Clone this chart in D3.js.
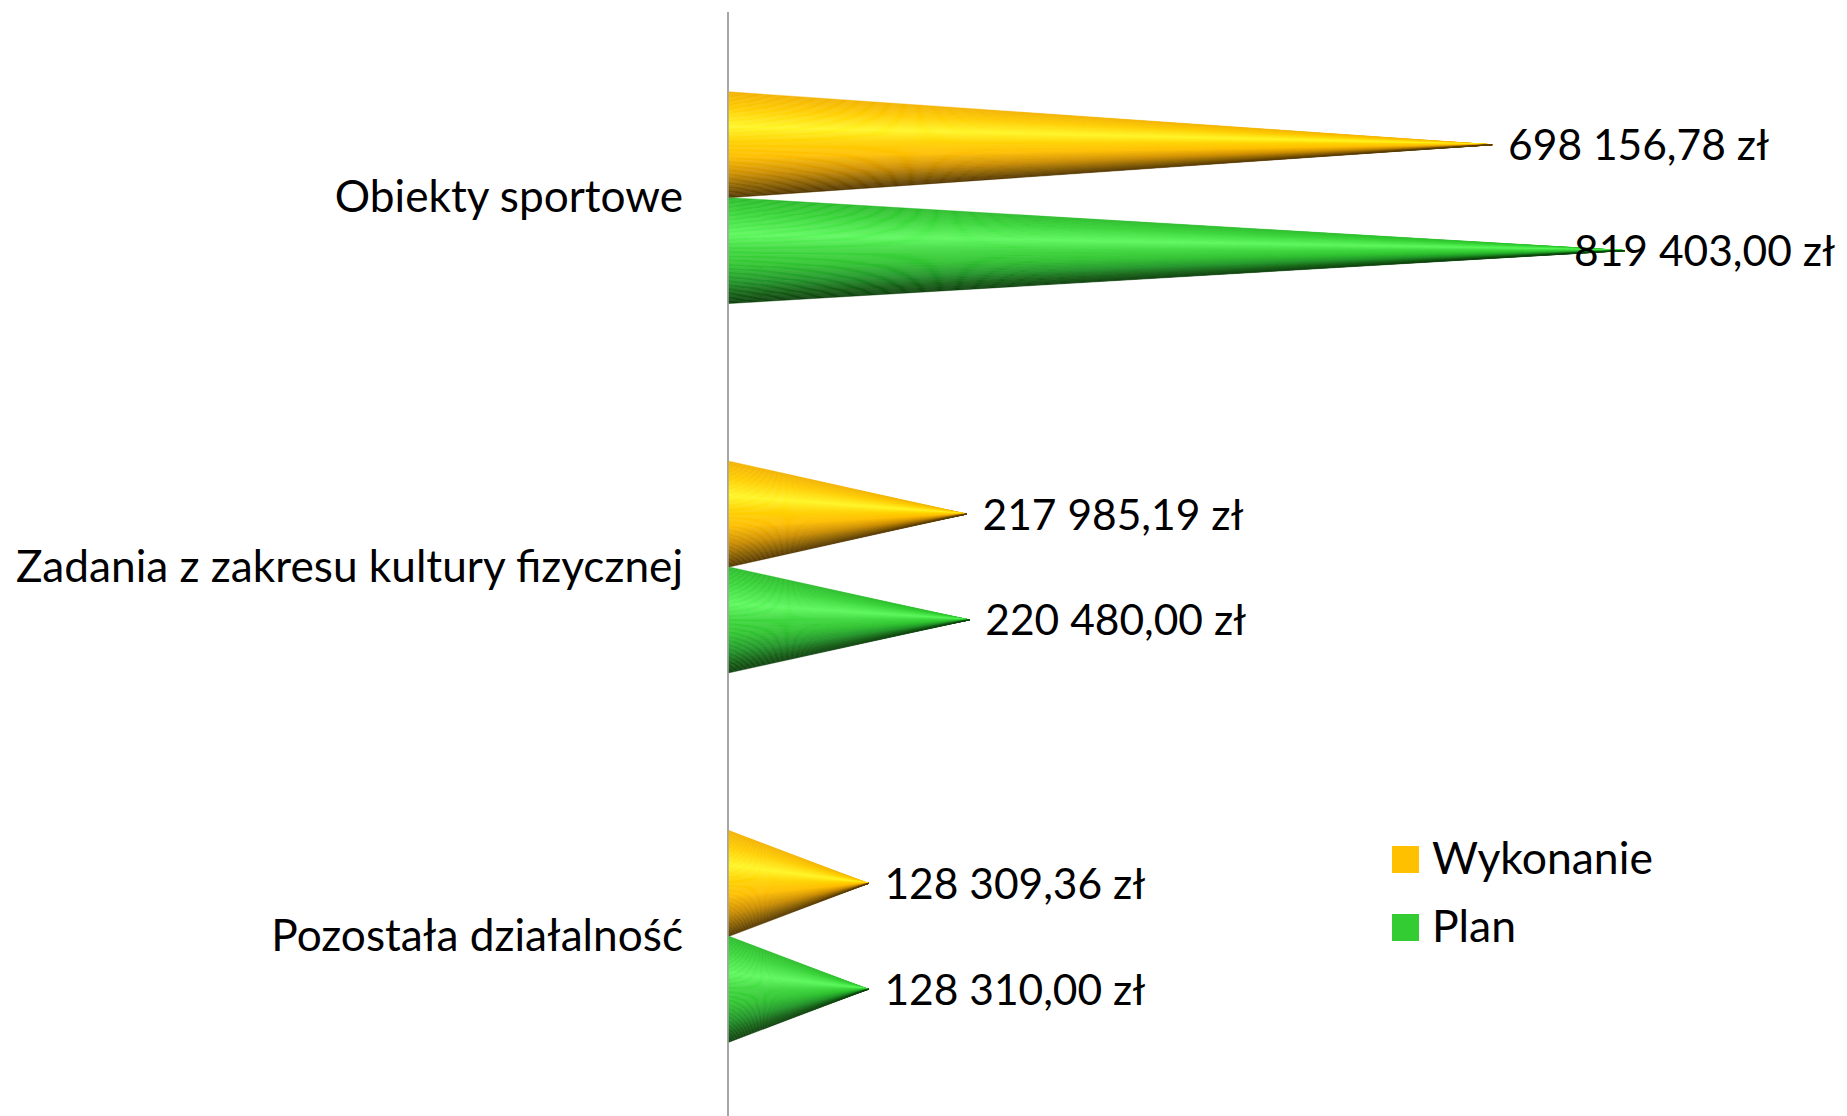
<!DOCTYPE html>
<html><head><meta charset="utf-8">
<script src="https://cdn.jsdelivr.net/npm/d3@7"></script>
<style>html,body{margin:0;padding:0;background:#fff;overflow:hidden}</style>
</head><body>
<svg id="chart" width="1847" height="1116"></svg>
<script>
const categories = ["Obiekty sportowe", "Zadania z zakresu kultury fizycznej", "Pozostała działalność"];
const seriesNames = ["Wykonanie", "Plan"];
const wykonanie = [698156.78, 217985.19, 128309.36];
const plan = [819403.00, 220480.00, 128310.00];
const seriesValues = [wykonanie, plan];
const legendColors = ["#FFC000", "#33CC33"];

const W = 1847, H = 1116;
const svg = d3.select("#chart");
const FONT = "Lato, 'Open Sans', sans-serif";
const FS = 42.5, FS_CAT = 44.2, FS_LEG = 44.5;

const x = d3.scaleLinear().domain([0, 900000]).range([728, 1713]);
const y = d3.scaleBand().domain(categories).range([13, 1121]).paddingInner(0.427).paddingOuter(0.2135);
const ys = d3.scaleBand().domain(seriesNames).range([0, y.bandwidth()]);

const shades = [
  d3.scaleLinear().domain([0, 0.15, 0.33, 0.47, 0.62, 0.78, 0.9, 1])
    .range(["#F2B200", "#FFCC00", "#FFF526", "#FFD200", "#FFBE00", "#CC8E00", "#8A6000", "#553800"]).interpolate(d3.interpolateRgb),
  d3.scaleLinear().domain([0, 0.15, 0.35, 0.5, 0.64, 0.8, 0.92, 1])
    .range(["#2CBC2C", "#3AD63A", "#5EF85E", "#3FD83F", "#31C431", "#22952A", "#155E15", "#0E420E"]).interpolate(d3.interpolateRgb)
];

// axis line
svg.append("line").attr("x1", x(0)).attr("x2", x(0)).attr("y1", 12).attr("y2", H)
  .attr("stroke", "#A6A6A6").attr("stroke-width", 2);

const N = 80;
seriesNames.forEach((s, si) => {
  categories.forEach((c, ci) => {
    const v = seriesValues[si][ci];
    const y0 = y(c) + ys(s), h = ys.bandwidth();
    const xt = x(v), yc = y0 + h / 2, x0 = x(0) + 1;
    const g = svg.append("g");
    for (let i = 0; i < N; i++) {
      const a = y0 + i * h / N, b = y0 + (i + 1) * h / N;
      const col = shades[si]((i + 0.5) / N);
      g.append("path").attr("d", `M${x0},${a}L${x0},${b}L${xt},${yc}Z`)
        .attr("fill", col).attr("stroke", col).attr("stroke-width", 0.5);
    }
    // data label
    const lab = svg.append("text").attr("font-family", FONT).attr("font-size", FS).attr("fill", "#000")
      .attr("dominant-baseline", "central").attr("y", yc - 1)
      .text(d3.format(",.2f")(v).replace(/,/g, " ").replace(".", ",") + " zł");
    const tw = lab.node().getComputedTextLength();
    let lx = xt + 16;
    if (lx + tw > W - 12) lx = W - 12 - tw;
    lab.attr("x", lx);
  });
});

// category labels
categories.forEach(c => {
  svg.append("text").attr("font-family", FONT).attr("font-size", FS_CAT).attr("fill", "#000")
    .attr("text-anchor", "end").attr("dominant-baseline", "central")
    .attr("x", x(0) - 45).attr("y", y(c) + y.bandwidth() / 2 - 3).text(c);
});

// legend
const leg = svg.append("g").attr("transform", "translate(1392,846)");
seriesNames.forEach((s, i) => {
  const gi = leg.append("g").attr("transform", `translate(0,${i * 68})`);
  gi.append("rect").attr("width", 27).attr("height", 27).attr("fill", legendColors[i]);
  gi.append("text").attr("x", 40).attr("y", 10).attr("dominant-baseline", "central")
    .attr("font-family", FONT).attr("font-size", FS_LEG).text(s);
});
</script>
</body></html>
